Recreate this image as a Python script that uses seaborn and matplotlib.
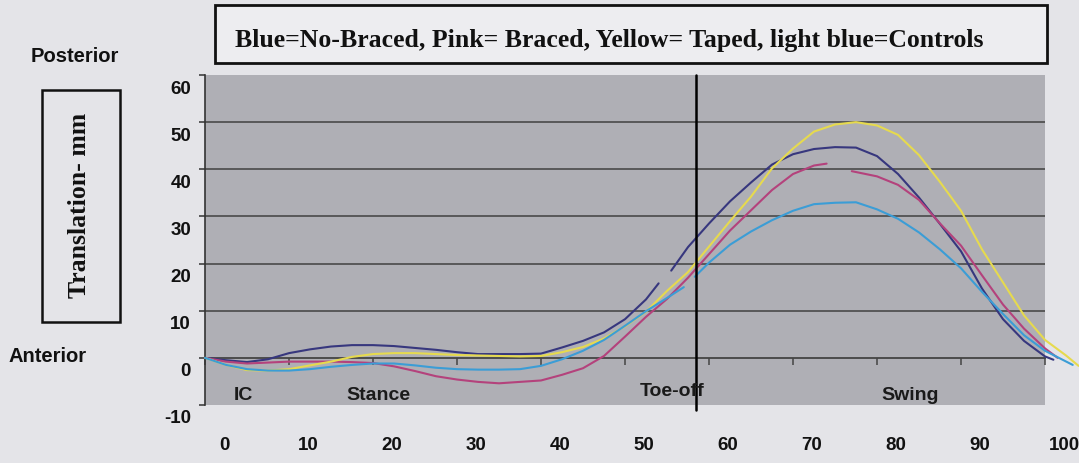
import matplotlib
matplotlib.use("Agg")
import matplotlib.pyplot as plt
import matplotlib.patches as mpatches
from matplotlib.transforms import ScaledTranslation
import numpy as np
import pandas as pd
import seaborn as sns

# gait cycle (%) vs tibial translation (mm)
# NaN marks a break in the traced line
nobrace_x = [0, 2.5, 5, 7.5, 10, 12.5, 15, 17.5, 20, 22.5, 25, 27.5, 30, 32.5, 35, 37.5, 40,
             42.5, 45, 47.5, 50, 52.5, 54, 54.8, 55.5, 57.5, 60, 62.5, 65, 67.5, 70, 72.5, 75,
             77.5, 80, 82.5, 85, 87.5, 90, 92.5, 95, 97.5, 100, 101]
nobrace_y = [0, -0.5, -0.9, -0.3, 1.0, 1.8, 2.4, 2.7, 2.7, 2.5, 2.1, 1.7, 1.2, 0.8, 0.8, 0.8, 0.9,
             2.2, 3.6, 5.4, 8.2, 12.4, 15.8, np.nan, 18.5, 23.5, 28.5, 33.2, 37.2, 41.0, 43.2, 44.3, 44.7,
             44.6, 42.8, 39.0, 34.0, 28.4, 22.6, 14.7, 8.2, 3.6, 0.3, -0.4]

braced_x = [0, 2.5, 5, 7.5, 10, 12.5, 15, 17.5, 20, 22.5, 25, 27.5, 30, 32.5, 35, 37.5, 40,
            42.5, 45, 47.5, 50, 52.5, 55, 57.5, 60, 62.5, 65, 67.5, 70, 72.5, 74, 75.5, 77,
            80, 82.5, 85, 87.5, 90, 92.5, 95, 97.5, 100, 101.5]
braced_y = [0, -0.8, -1.2, -1.0, -0.8, -0.8, -0.8, -0.9, -1.1, -1.8, -2.8, -3.9, -4.6, -5.1, -5.4, -5.1, -4.8,
            -3.6, -2.2, 0.4, 4.5, 8.7, 12.5, 17.0, 22.0, 27.0, 31.3, 35.6, 39.0, 40.8, 41.2, np.nan, 39.6,
            38.5, 36.7, 33.5, 28.5, 23.8, 17.5, 11.3, 6.2, 2.0, 0]

taped_x = [0, 2.5, 5, 7.5, 10, 12.5, 15, 17.5, 20, 22.5, 25, 27.5, 30, 32.5, 35, 37.5, 40,
           42.5, 45, 47.5, 50, 52.5, 55, 57.5, 60, 62.5, 65, 67.5, 70, 72.5, 75, 77.5, 80,
           82.5, 85, 87.5, 90, 92.5, 95, 97.5, 100, 102.5, 104]
taped_y = [0, -1.5, -2.6, -2.7, -2.4, -1.6, -0.8, 0.2, 0.8, 1.0, 1.0, 0.8, 0.6, 0.5, 0.4, 0.3, 0.4,
           1.2, 2.3, 4.1, 6.7, 9.8, 14.2, 18.2, 23.6, 29.0, 34.2, 40.2, 44.4, 48.0, 49.5, 50.0, 49.3,
           47.3, 43.0, 37.3, 31.2, 23.0, 16.0, 9.0, 3.8, 0.5, -1.7]

control_x = [0, 2.5, 5, 7.5, 10, 12.5, 15, 17.5, 20, 22.5, 25, 27.5, 30, 32.5, 35, 37.5, 40,
             42.5, 45, 47.5, 50, 52.5, 55, 57, 57.6, 58.3, 60, 62.5, 65, 67.5, 70, 72.5, 75,
             77.5, 80, 82.5, 85, 87.5, 90, 92.5, 95, 97.5, 100, 103.3]
control_y = [0, -1.5, -2.4, -2.7, -2.7, -2.4, -1.9, -1.5, -1.2, -1.2, -1.6, -2.1, -2.4, -2.5, -2.5, -2.4, -1.7,
             -0.3, 1.5, 3.8, 6.8, 9.9, 12.7, 15.0, np.nan, 17.2, 20.2, 24.0, 26.8, 29.2, 31.2, 32.6, 32.9,
             33.0, 31.5, 29.5, 26.6, 23.0, 19.0, 14.0, 9.3, 4.8, 1.5, -1.5]

groups = ["No-Braced", "Braced", "Taped", "Controls"]
colors = {"No-Braced": "#37377e", "Braced": "#b4427c", "Taped": "#e6da4e", "Controls": "#3b9dd6"}

x_ticks = [0, 10, 20, 30, 40, 50, 60, 70, 80, 90, 100]
y_ticks = [-10, 0, 10, 20, 30, 40, 50, 60]
toe_off = 58.5
phase_labels = ["IC", "Stance", "Toe-off", "Swing"]
phase_x = [4.6, 20.6, 55.6, 83.9]
phase_y = [-8.0, -8.0, -7.2, -8.0]

frames = []
for name, xs, ys in [("No-Braced", nobrace_x, nobrace_y), ("Braced", braced_x, braced_y),
                     ("Taped", taped_x, taped_y), ("Controls", control_x, control_y)]:
    d = pd.DataFrame({"pct": xs, "mm": ys, "group": name})
    d["seg"] = name + d["mm"].isna().cumsum().astype(str)
    frames.append(d.dropna())
df = pd.concat(frames, ignore_index=True)

sns.set_theme(style="white")
plt.rcParams["font.family"] = ["Liberation Sans", "DejaVu Sans"]

bg = "#e4e4e8"
fig = plt.figure(figsize=(10.79, 4.63), dpi=100, facecolor=bg)
ax = fig.add_axes([0.190, 0.1253, 0.7785, 0.7127])
ax.set_facecolor("#afafb5")

ax.set_xlim(0, 100)
ax.set_ylim(y_ticks[0], y_ticks[-1])

for g in y_ticks[2:-1]:
    ax.axhline(g, color="#4a4a4a", lw=1.2, zorder=1)

sns.lineplot(data=df, x="pct", y="mm", hue="group", hue_order=groups, palette=colors,
             units="seg", estimator=None, sort=False, legend=False, lw=1.5,
             clip_on=False, ax=ax, zorder=3)

ax.axvline(toe_off, ymin=-0.015, ymax=1.0, color="black", lw=1.8, clip_on=False, zorder=4)

# zero line carries the category ticks
zero_loc = (0 - y_ticks[0]) / (y_ticks[-1] - y_ticks[0])
sec = ax.secondary_xaxis(zero_loc)
sec.set_xticks(x_ticks)
sec.set_xticklabels([])
sec.tick_params(axis="x", direction="out", length=5, width=1.1, color="#444444")
sec.spines["bottom"].set_color("#444444")
sec.spines["bottom"].set_linewidth(1.3)
for s in ["top", "left", "right"]:
    sec.spines[s].set_visible(False)

for s in ["top", "right", "bottom"]:
    ax.spines[s].set_visible(False)
ax.spines["left"].set_color("#333333")
ax.spines["left"].set_linewidth(1.2)

ax.set_xticks(x_ticks)
ax.set_xticklabels([str(v) for v in x_ticks])
ax.set_yticks(y_ticks)
ax.set_yticklabels([str(v) for v in y_ticks])
ax.tick_params(axis="x", length=0, pad=23, labelsize=13.5, labelcolor="#111111")
ax.tick_params(axis="y", direction="out", length=4, width=1.1, color="#333333", left=True,
               pad=6, labelsize=13.5, labelcolor="#111111")
for lab in ax.get_xticklabels() + ax.get_yticklabels():
    lab.set_fontweight("bold")
for lab in ax.get_xticklabels():
    lab.set_transform(lab.get_transform() + ScaledTranslation(0.19, 0, fig.dpi_scale_trans))
for lab in ax.get_yticklabels():
    lab.set_transform(lab.get_transform() + ScaledTranslation(0, -0.12, fig.dpi_scale_trans))
ax.set_xlabel("")
ax.set_ylabel("")

for txt, px, py in zip(phase_labels, phase_x, phase_y):
    ax.text(px, py, txt, ha="center", va="center", fontsize=14, fontweight="bold",
            color="#1a1a1a", zorder=5)

# title box
fig.patches.append(mpatches.Rectangle((0.1993, 0.864), 0.771, 0.125, transform=fig.transFigure,
                                      facecolor="#ededf0", edgecolor="#111111", lw=2))
fig.text(0.565, 0.9136, "Blue=No-Braced, Pink= Braced, Yellow= Taped, light blue=Controls",
         ha="center", va="center", fontsize=18.5, fontweight="bold", family="Liberation Serif",
         color="#111111")

# y label box
fig.patches.append(mpatches.Rectangle((0.039, 0.3045), 0.0723, 0.501, transform=fig.transFigure,
                                      facecolor=bg, edgecolor="#111111", lw=1.8))
fig.text(0.0741, 0.557, "Translation- mm", rotation=90, ha="center", va="center",
         fontsize=18.5, fontweight="bold", family="Liberation Serif", color="#111111")

fig.text(0.0695, 0.877, "Posterior", ha="center", va="center", fontsize=14.5,
         fontweight="bold", color="#111111")
fig.text(0.0445, 0.229, "Anterior", ha="center", va="center", fontsize=14.5,
         fontweight="bold", color="#111111")

fig.savefig("out.png", dpi=100, facecolor=bg)
